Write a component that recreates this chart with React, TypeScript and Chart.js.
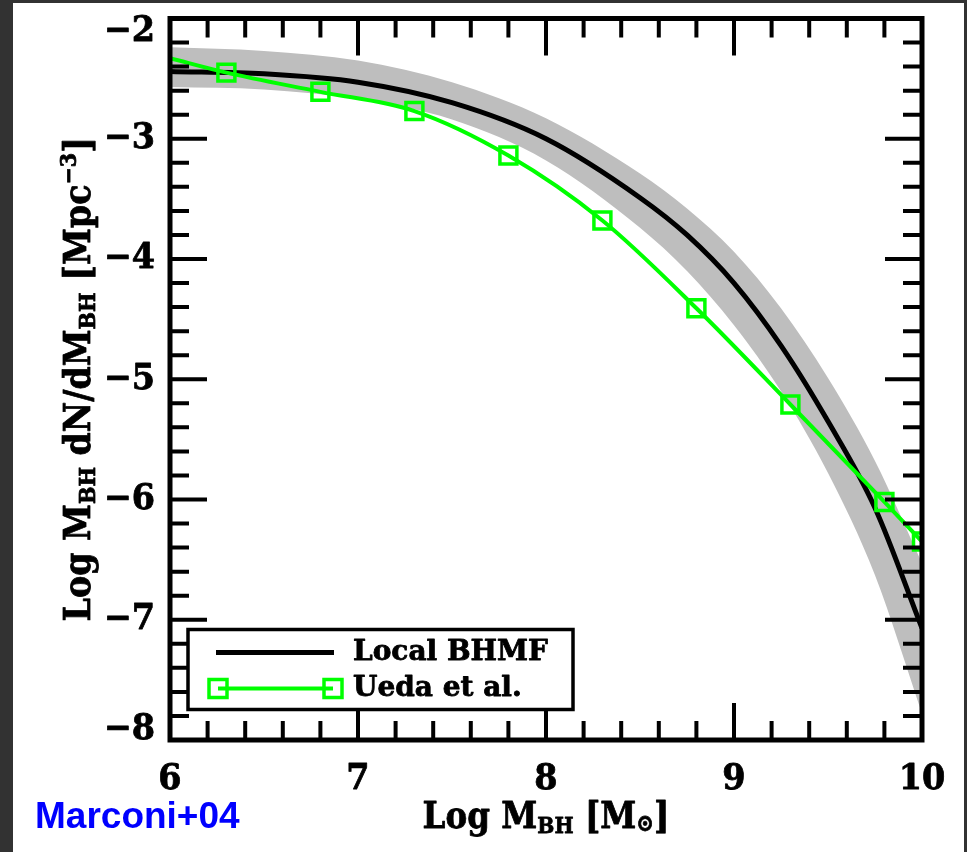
import React, { useEffect, useRef } from 'react';
import { Chart, registerables } from 'chart.js';

Chart.register(...registerables);

// Local black hole mass function (log M_BH) with its uncertainty band
const bhmfLogM = [6.0, 6.5, 7.0, 7.5, 8.0, 8.5, 8.75, 9.0, 9.25, 9.5, 9.75, 10.0];
const bhmfLocal = [-2.44, -2.46, -2.53, -2.70, -3.00, -3.49, -3.80, -4.20, -4.72, -5.35, -6.07, -7.07];
const bhmfUpper = [-2.24, -2.27, -2.35, -2.53, -2.83, -3.29, -3.58, -3.94, -4.41, -4.99, -5.68, -6.53];
const bhmfLower = [-2.57, -2.59, -2.67, -2.84, -3.18, -3.74, -4.10, -4.55, -5.10, -5.78, -6.63, -7.78];

// Relic mass function from the Ueda et al. luminosity function
const uedaLogM = [6.0, 6.3, 6.8, 7.3, 7.8, 8.3, 8.8, 9.3, 9.8, 10.0];
const uedaValues = [-2.33, -2.45, -2.61, -2.77, -3.14, -3.68, -4.41, -5.21, -6.02, -6.35];
const uedaMarked = [false, true, true, true, true, true, true, true, true, true];

const xMin = 6;
const xMax = 10;
const yMin = -8;
const yMax = -2;
const xTickValues = [6, 7, 8, 9, 10];
const yTickValues = [-2, -3, -4, -5, -6, -7, -8];
const minorStep = 0.2;

const legendLabels = ['Local BHMF', 'Ueda et al.'];
const creditText = 'Marconi+04';

const GREEN = '#00ff00';
const BAND = '#bebebe';
const SERIF = "'DejaVu Serif', serif";

type Run = { text: string; size: number; dy: number };

const xTitleRuns: Run[] = [
  { text: 'Log M', size: 37, dy: 0 },
  { text: 'BH', size: 23, dy: 5 },
  { text: ' [M', size: 37, dy: 0 },
  { text: '\u2299', size: 24, dy: 3 },
  { text: ']', size: 37, dy: 0 },
];

const yTitleRuns: Run[] = [
  { text: 'Log M', size: 37, dy: 0 },
  { text: 'BH', size: 23, dy: 5 },
  { text: ' dN/dM', size: 37, dy: 0 },
  { text: 'BH', size: 23, dy: 5 },
  { text: ' [Mpc', size: 37, dy: 0 },
  { text: '\u22123', size: 23, dy: -14 },
  { text: ']', size: 37, dy: 0 },
];

function drawRuns(ctx: CanvasRenderingContext2D, runs: Run[], x: number, y: number, sx: number) {
  let total = 0;
  for (const r of runs) {
    ctx.font = `bold ${r.size}px ${SERIF}`;
    total += ctx.measureText(r.text).width;
  }
  ctx.save();
  ctx.translate(x, y);
  ctx.scale(sx, 1);
  ctx.textAlign = 'left';
  ctx.textBaseline = 'alphabetic';
  ctx.lineWidth = 0.8;
  ctx.lineJoin = 'round';
  let cx = -total / 2;
  for (const r of runs) {
    ctx.font = `bold ${r.size}px ${SERIF}`;
    ctx.fillText(r.text, cx, r.dy);
    ctx.strokeText(r.text, cx, r.dy);
    cx += ctx.measureText(r.text).width;
  }
  ctx.restore();
}

function drawCondensed(
  ctx: CanvasRenderingContext2D,
  text: string,
  x: number,
  y: number,
  sx: number,
  align: 'left' | 'right' | 'center'
) {
  const w = ctx.measureText(text).width * sx;
  let left = x;
  if (align === 'right') left = x - w;
  if (align === 'center') left = x - w / 2;
  ctx.save();
  ctx.translate(left, y);
  ctx.scale(sx, 1);
  ctx.textAlign = 'left';
  ctx.lineWidth = 0.8;
  ctx.lineJoin = 'round';
  ctx.fillText(text, 0, 0);
  ctx.strokeText(text, 0, 0);
  ctx.restore();
}

const framePlugin = {
  id: 'frameAndLabels',
  afterDraw(chart: any) {
    const { ctx, chartArea: a, scales } = chart;
    const xs = scales.x;
    const ys = scales.y;
    ctx.save();
    ctx.strokeStyle = '#000';
    ctx.fillStyle = '#000';
    ctx.lineCap = 'butt';
    ctx.lineWidth = 4;

    // inward ticks on all four sides
    const nx = Math.round((xMax - xMin) / minorStep);
    for (let i = 1; i < nx; i++) {
      const v = xMin + i * minorStep;
      const major = Math.abs(v - Math.round(v)) < 1e-6;
      const len = major ? 37 : 19;
      const px = xs.getPixelForValue(v);
      ctx.beginPath();
      ctx.moveTo(px, a.bottom);
      ctx.lineTo(px, a.bottom - len);
      ctx.moveTo(px, a.top);
      ctx.lineTo(px, a.top + len);
      ctx.stroke();
    }
    const ny = Math.round((yMax - yMin) / minorStep);
    for (let i = 1; i < ny; i++) {
      const v = yMin + i * minorStep;
      const major = Math.abs(v - Math.round(v)) < 1e-6;
      const len = major ? 37 : 19;
      const py = ys.getPixelForValue(v);
      ctx.beginPath();
      ctx.moveTo(a.left, py);
      ctx.lineTo(a.left + len, py);
      ctx.moveTo(a.right, py);
      ctx.lineTo(a.right - len, py);
      ctx.stroke();
    }

    // frame
    ctx.lineWidth = 5;
    ctx.lineJoin = 'miter';
    ctx.strokeRect(a.left, a.top, a.right - a.left, a.bottom - a.top);

    // tick labels
    ctx.font = `bold 36px ${SERIF}`;
    ctx.textBaseline = 'middle';
    for (const v of yTickValues) {
      let py = ys.getPixelForValue(v);
      py = Math.min(Math.max(py, a.top + 13), a.bottom - 10);
      drawCondensed(ctx, v < 0 ? '\u2212' + Math.abs(v) : String(v), a.left - 15, py, 0.93, 'right');
    }
    for (const v of xTickValues) {
      const px = xs.getPixelForValue(v);
      drawCondensed(ctx, String(v), px, a.bottom + 40, 0.93, 'center');
    }

    // axis titles
    drawRuns(ctx, xTitleRuns, xs.getPixelForValue(8), a.bottom + 88, 0.88);
    ctx.save();
    ctx.translate(a.left - 80, (a.top + a.bottom) / 2);
    ctx.rotate(-Math.PI / 2);
    drawRuns(ctx, yTitleRuns, 0, 0, 0.9);
    ctx.restore();

    // legend box
    const bx = a.left + 18;
    const by = a.top + 611;
    const bw = 385;
    const bh = 80;
    ctx.fillStyle = '#fff';
    ctx.fillRect(bx, by, bw, bh);
    ctx.strokeStyle = '#000';
    ctx.lineWidth = 3.5;
    ctx.strokeRect(bx, by, bw, bh);

    const row1 = by + 23;
    const row2 = by + 59;
    ctx.lineWidth = 5;
    ctx.beginPath();
    ctx.moveTo(bx + 28, row1);
    ctx.lineTo(bx + 146, row1);
    ctx.stroke();

    ctx.strokeStyle = GREEN;
    ctx.lineWidth = 4;
    ctx.beginPath();
    ctx.moveTo(bx + 30, row2);
    ctx.lineTo(bx + 145, row2);
    ctx.stroke();
    ctx.lineWidth = 3.5;
    ctx.strokeRect(bx + 30 - 9, row2 - 9, 18, 18);
    ctx.strokeRect(bx + 145 - 9, row2 - 9, 18, 18);

    ctx.fillStyle = '#000';
    ctx.strokeStyle = '#000';
    ctx.font = `bold 28px ${SERIF}`;
    ctx.textBaseline = 'middle';
    drawCondensed(ctx, legendLabels[0], bx + 165, row1, 1.0, 'left');
    drawCondensed(ctx, legendLabels[1], bx + 165, row2, 1.0, 'left');

    // credit
    ctx.fillStyle = '#0000ff';
    ctx.font = "bold 37px 'Liberation Sans', Arial, sans-serif";
    ctx.textBaseline = 'alphabetic';
    ctx.textAlign = 'left';
    ctx.fillText(creditText, 22, 825);

    ctx.restore();
  },
};

export default function App() {
  const ref = useRef<HTMLCanvasElement>(null);

  useEffect(() => {
    const canvas = ref.current;
    if (!canvas) return;
    const chart = new Chart(canvas, {
      type: 'line',
      data: {
        datasets: [
          {
            label: 'Ueda et al.',
            data: uedaLogM.map((m, i) => ({ x: m, y: uedaValues[i] })),
            borderColor: GREEN,
            borderWidth: 4,
            pointStyle: 'rect',
            pointRadius: uedaMarked.map((on) => (on ? 12 : 0)),
            pointBorderWidth: 3.5,
            pointBorderColor: GREEN,
            pointBackgroundColor: 'rgba(0,0,0,0)',
            fill: false,
            order: 0,
          },
          {
            label: 'Local BHMF',
            data: bhmfLogM.map((m, i) => ({ x: m, y: bhmfLocal[i] })),
            borderColor: '#000',
            borderWidth: 5,
            pointRadius: 0,
            fill: false,
            order: 1,
          },
          {
            label: 'upper',
            data: bhmfLogM.map((m, i) => ({ x: m, y: bhmfUpper[i] })),
            borderWidth: 0,
            borderColor: 'rgba(0,0,0,0)',
            backgroundColor: BAND,
            pointRadius: 0,
            fill: '+1',
            order: 2,
          },
          {
            label: 'lower',
            data: bhmfLogM.map((m, i) => ({ x: m, y: bhmfLower[i] })),
            borderWidth: 0,
            borderColor: 'rgba(0,0,0,0)',
            pointRadius: 0,
            fill: false,
            order: 3,
          },
        ],
      },
      options: {
        animation: false,
        responsive: false,
        devicePixelRatio: 1,
        layout: { padding: { left: 157, right: 42, top: 14, bottom: 112 } },
        elements: { line: { cubicInterpolationMode: 'monotone' } },
        plugins: { legend: { display: false }, tooltip: { enabled: false } },
        scales: {
          x: { type: 'linear', min: xMin, max: xMax, display: false },
          y: { type: 'linear', min: yMin, max: yMax, display: false },
        },
      },
      plugins: [framePlugin],
    });
    return () => chart.destroy();
  }, []);

  return (
    <div style={{ position: 'absolute', left: 0, top: 0, width: 967, height: 852, background: '#323232' }}>
      <canvas
        ref={ref}
        width={951}
        height={849}
        style={{ position: 'absolute', left: 13, top: 3, width: 951, height: 849, background: '#fff' }}
      />
    </div>
  );
}
